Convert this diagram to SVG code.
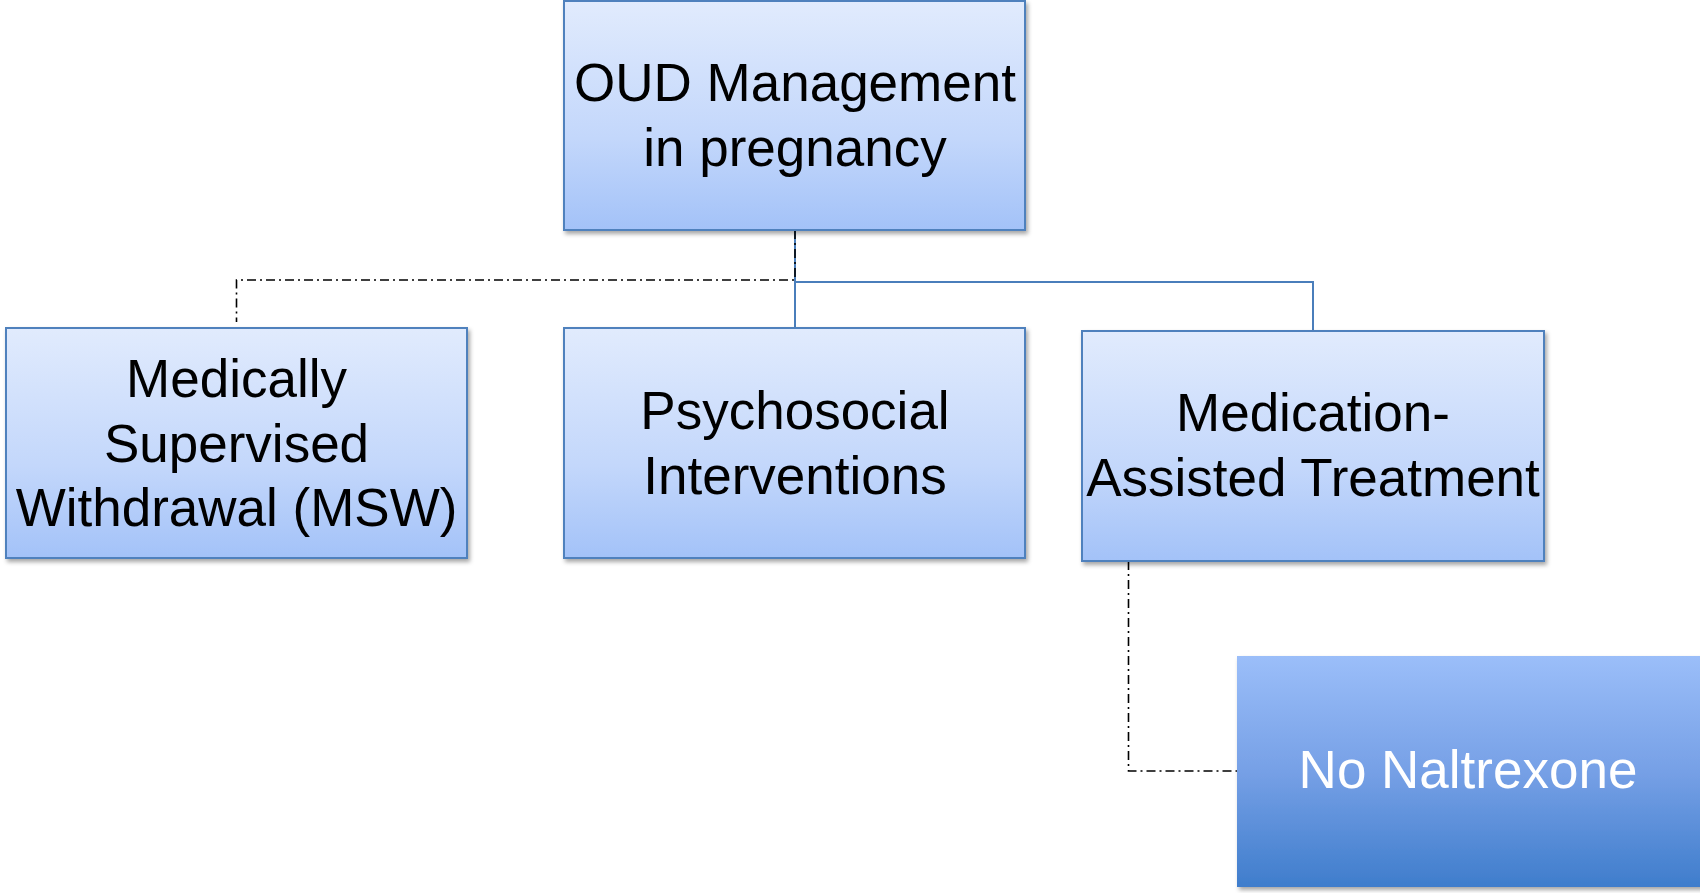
<svg xmlns="http://www.w3.org/2000/svg" width="1700" height="893" viewBox="0 0 1700 893">
<style>
.box{fill:url(#lightGrad);stroke:#4f81bd;stroke-width:2;filter:url(#shadow)}
.dark{fill:url(#darkGrad);filter:url(#shadow)}
.lbl{font-family:"Liberation Sans",Arial,sans-serif;font-size:53px;fill:#000;text-anchor:middle}
.lblw{font-family:"Liberation Sans",Arial,sans-serif;font-size:53px;fill:#fff;text-anchor:middle}
.solid{fill:none;stroke:#4a7ebb;stroke-width:2}
.dashdot{fill:none;stroke:#000;stroke-width:1.6;stroke-dasharray:9 4 2 4}
</style>
<defs>
<linearGradient id="lightGrad" x1="0" y1="0" x2="0" y2="1">
<stop offset="0" stop-color="#e1ebfd"/>
<stop offset="0.6" stop-color="#c3d7fb"/>
<stop offset="1" stop-color="#a3c2f8"/>
</linearGradient>
<linearGradient id="darkGrad" x1="0" y1="0" x2="0" y2="1">
<stop offset="0" stop-color="#9bbef9"/>
<stop offset="0.5" stop-color="#76a0e6"/>
<stop offset="1" stop-color="#3f7dcc"/>
</linearGradient>
<filter id="shadow" x="-5%" y="-5%" width="115%" height="120%">
<feDropShadow dx="2" dy="3" stdDeviation="2" flood-color="#000" flood-opacity="0.35"/>
</filter>
</defs>
<rect width="1700" height="893" fill="#fff"/>
<g id="connectors">
<path class="solid" d="M795 230 V328"/>
<path class="solid" d="M795 282 H1313 V331"/>
<path class="dashdot" d="M795 230 V280 H236.5 V322"/>
<path class="dashdot" d="M1128.5 561 V771 H1237"/>
</g>
<g id="node-root">
<rect class="box" x="564" y="1" width="461" height="229"/>
<text class="lbl" x="795" y="101">OUD Management</text>
<text class="lbl" x="795" y="166">in pregnancy</text>
</g>
<g id="node-msw">
<rect class="box" x="6" y="328" width="461" height="230"/>
<text class="lbl" x="236.5" y="397">Medically</text>
<text class="lbl" x="236.5" y="462">Supervised</text>
<text class="lbl" x="236.5" y="526">Withdrawal (MSW)</text>
</g>
<g id="node-psych">
<rect class="box" x="564" y="328" width="461" height="230"/>
<text class="lbl" x="795" y="429">Psychosocial</text>
<text class="lbl" x="795" y="494">Interventions</text>
</g>
<g id="node-mat">
<rect class="box" x="1082" y="331" width="462" height="230"/>
<text class="lbl" x="1313" y="431">Medication-</text>
<text class="lbl" x="1313" y="496">Assisted Treatment</text>
</g>
<g id="node-naltrexone">
<rect class="dark" x="1237" y="656" width="470" height="231"/>
<text class="lblw" x="1468" y="788">No Naltrexone</text>
</g>
</svg>
